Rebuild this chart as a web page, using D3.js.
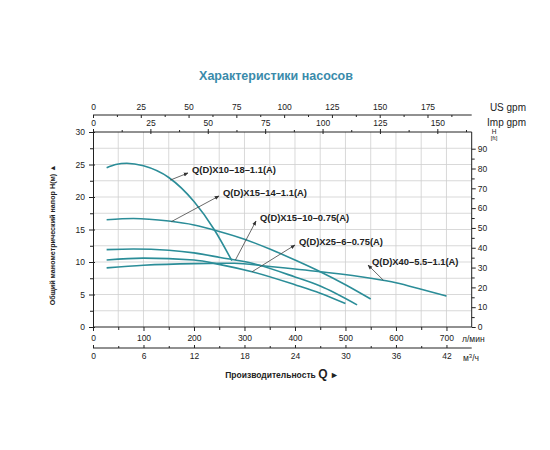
<!DOCTYPE html>
<html>
<head>
<meta charset="utf-8">
<script src="https://cdn.jsdelivr.net/npm/d3@7"></script>
<style>
  body { margin: 0; background: #fff; }
  text { font-family: "Liberation Sans", Arial, sans-serif; }
</style>
</head>
<body>
<svg id="chart" width="550" height="450"></svg>
<script>
// --- data, flow in l/min, head in m ---
const pumpNames = [
  "Q(D)X10–18–1.1(A)",
  "Q(D)X15–14–1.1(A)",
  "Q(D)X15–10–0.75(A)",
  "Q(D)X25–6–0.75(A)",
  "Q(D)X40–5.5–1.1(A)"
];
const flowX10 = [27, 45, 67, 100, 150, 200, 240, 275];
const headX10 = [24.5, 25.0, 25.2, 24.8, 23.0, 19.3, 15.0, 10.2];
const flowX15a = [27, 80, 150, 200, 250, 300, 350, 400, 450, 500, 550];
const headX15a = [16.5, 16.7, 16.3, 15.7, 14.7, 13.5, 12.0, 10.3, 8.5, 6.5, 4.3];
const flowX15b = [27, 80, 150, 200, 252, 315, 400, 450, 523];
const headX15b = [11.9, 12.0, 11.8, 11.4, 10.7, 9.8, 7.7, 6.3, 3.4];
const flowX25 = [27, 100, 200, 252, 315, 400, 450, 500];
const headX25 = [10.3, 10.6, 10.3, 9.6, 8.5, 6.5, 5.2, 3.6];
const flowX40 = [27, 100, 200, 280, 350, 450, 550, 600, 650, 700];
const headX40 = [9.1, 9.5, 9.75, 9.8, 9.3, 8.5, 7.5, 6.8, 5.8, 4.75];

// where each label's leader line touches its curve (flow l/min, head m)
const labelFlow = [153, 155, 282, 315, 575];
const labelHead = [22.6, 16.2, 10.3, 8.5, 7.2];

const headTicks = [0, 5, 10, 15, 20, 25, 30];
const feetTicks = [0, 10, 20, 30, 40, 50, 60, 70, 80, 90];
const lpmTicks = [0, 100, 200, 300, 400, 500, 600, 700];
const m3hTicks = [0, 6, 12, 18, 24, 30, 36, 42];
const usTicks = [0, 25, 50, 75, 100, 125, 150, 175];
const impTicks = [0, 25, 50, 75, 100, 125, 150];

const series = [
  { flow: flowX10, head: headX10 },
  { flow: flowX15a, head: headX15a },
  { flow: flowX15b, head: headX15b },
  { flow: flowX25, head: headX25 },
  { flow: flowX40, head: headX40 }
];

const svg = d3.select("#chart");
const pL = 93, pR = 471.7, pT = 132, pB = 327;
const maxFlow = 750;

const x = d3.scaleLinear().domain([0, maxFlow]).range([pL, pR]);
const y = d3.scaleLinear().domain([0, 30]).range([pB, pT]);
const yFt = d3.scaleLinear().domain([0, 30 / 0.3048]).range([pB, pT]);
const xM3 = d3.scaleLinear().domain([0, maxFlow * 0.06]).range([pL, pR]);
const xUs = d3.scaleLinear().domain([0, maxFlow / 3.78541]).range([pL, pR]);
const xImp = d3.scaleLinear().domain([0, maxFlow / 4.54609]).range([pL, pR]);

const curveColor = "#2b8d98";
const gridColor = "#cfcfcf";

// title
svg.append("text")
  .attr("x", 276).attr("y", 80)
  .attr("text-anchor", "middle")
  .style("font-size", "12.5px").style("font-weight", "bold")
  .attr("fill", "#3a8bab")
  .text("Характеристики насосов");

// grid
const grid = svg.append("g");
grid.selectAll(".vg")
  .data(d3.range(50, maxFlow, 50))
  .join("line")
  .attr("x1", d => x(d)).attr("x2", d => x(d))
  .attr("y1", pT).attr("y2", pB)
  .attr("stroke", gridColor).attr("stroke-width", 0.8);
grid.selectAll(".hg")
  .data(d3.range(2.5, 30, 2.5))
  .join("line")
  .attr("x1", pL).attr("x2", pR)
  .attr("y1", d => y(d)).attr("y2", d => y(d))
  .attr("stroke", gridColor).attr("stroke-width", 0.8);

function styleAxis(g) {
  g.select(".domain").attr("stroke", "#222").attr("stroke-width", 1);
  g.selectAll(".tick line").attr("stroke", "#222");
  g.selectAll("text").style("font-size", "8.5px").attr("fill", "#222");
}
function minor(g) {
  g.select(".domain").remove();
  g.selectAll("text").remove();
  g.selectAll(".tick line").attr("stroke", "#222");
}

// left axis (m)
svg.append("g").attr("transform", `translate(${pL},0)`)
  .call(d3.axisLeft(y).tickValues(d3.range(2.5, 30, 5)).tickSize(3))
  .call(minor);
svg.append("g").attr("transform", `translate(${pL},0)`)
  .call(d3.axisLeft(y).tickValues(headTicks).tickSizeOuter(0).tickSize(4).tickPadding(4))
  .call(styleAxis);
svg.append("g").attr("transform", `translate(${pL},0)`)
  .call(d3.axisRight(y).tickValues(headTicks).tickSize(2))
  .call(minor);

// right axis (ft)
svg.append("g").attr("transform", `translate(${pR},0)`)
  .call(d3.axisRight(yFt).tickValues(d3.range(5, 95, 10)).tickSize(3))
  .call(minor);
svg.append("g").attr("transform", `translate(${pR},0)`)
  .call(d3.axisRight(yFt).tickValues(feetTicks).tickSizeOuter(0).tickSize(4).tickPadding(2))
  .call(styleAxis)
  .call(g => g.select(".domain").attr("d", `M0,${pT}V${pB}`));
svg.append("text").attr("x", 494).attr("y", 133.5).attr("text-anchor", "middle")
  .style("font-size", "6.5px").attr("fill", "#222").text("H");
svg.append("text").attr("x", 494).attr("y", 139.5).attr("text-anchor", "middle")
  .style("font-size", "6px").attr("fill", "#222").text("[ft]");

// bottom axis (l/min)
svg.append("g").attr("transform", `translate(0,${pB})`)
  .call(d3.axisBottom(x).tickValues(d3.range(50, 750, 100)).tickSize(3))
  .call(minor);
svg.append("g").attr("transform", `translate(0,${pB})`)
  .call(d3.axisBottom(x).tickValues(lpmTicks).tickSizeOuter(0).tickSize(4).tickPadding(4))
  .call(styleAxis)
  .call(g => g.select(".domain").attr("d", `M${pL},0H${pR}`));
svg.append("text").attr("x", 462).attr("y", 342)
  .style("font-size", "8.5px").attr("fill", "#222").text("л/мин");

// m3/h axis
const yM3 = 348;
svg.append("g").attr("transform", `translate(0,${yM3})`)
  .call(d3.axisBottom(xM3).tickValues(d3.range(3, 45, 6)).tickSize(-2))
  .call(minor);
svg.append("g").attr("transform", `translate(0,${yM3})`)
  .call(d3.axisBottom(xM3).tickValues(m3hTicks).tickSizeOuter(0).tickSize(-3).tickPadding(5))
  .call(styleAxis)
  .call(g => g.select(".domain").attr("d", `M${pL},0H${pR}`));
svg.append("text").attr("x", 463).attr("y", 361)
  .style("font-size", "8.5px").attr("fill", "#222")
  .html('м<tspan dy="-3" style="font-size:6px">3</tspan><tspan dy="3">/ч</tspan>');

// top: US gpm
const yUs = 115;
svg.append("g").attr("transform", `translate(0,${yUs})`)
  .call(d3.axisTop(xUs).tickValues(d3.range(12.5, 190, 25)).tickSize(-2))
  .call(minor);
svg.append("g").attr("transform", `translate(0,${yUs})`)
  .call(d3.axisTop(xUs).tickValues(usTicks).tickSizeOuter(0).tickSize(-3).tickPadding(5))
  .call(styleAxis)
  .call(g => g.select(".domain").attr("d", `M${pL},0H${pR}`));
svg.append("text").attr("x", 526).attr("y", 110.5).attr("text-anchor", "end")
  .style("font-size", "10px").attr("fill", "#222").text("US gpm");

// top: Imp gpm (top frame of the plot)
svg.append("g").attr("transform", `translate(0,${pT})`)
  .call(d3.axisTop(xImp).tickValues(d3.range(12.5, 165, 25)).tickSize(2))
  .call(minor);
svg.append("g").attr("transform", `translate(0,${pT})`)
  .call(d3.axisTop(xImp).tickValues(impTicks).tickSizeOuter(0).tickSize(3).tickPadding(3))
  .call(styleAxis)
  .call(g => g.select(".domain").attr("d", `M${pL},0H${pR}`));
svg.append("g").attr("transform", `translate(0,${pT})`)
  .call(d3.axisBottom(xImp).tickValues(impTicks).tickSize(2))
  .call(minor);
svg.append("text").attr("x", 526).attr("y", 125.5).attr("text-anchor", "end")
  .style("font-size", "10px").attr("fill", "#222").text("Imp gpm");

// axis titles
svg.append("text")
  .attr("transform", `translate(54.5,235) rotate(-90)`)
  .attr("text-anchor", "middle")
  .style("font-size", "7.2px").style("font-weight", "bold").attr("fill", "#222")
  .text("Общий манометрический напор H(м) ▲");
svg.append("text")
  .attr("x", 282).attr("y", 378).attr("text-anchor", "middle")
  .style("font-size", "8.5px").style("font-weight", "bold").attr("fill", "#222")
  .html('Производительность <tspan style="font-size:12px">Q</tspan>  <tspan style="font-size:9px">&#9658;</tspan>');

// curves
const line = d3.line()
  .x(d => x(d[0])).y(d => y(d[1]))
  .curve(d3.curveMonotoneX);
svg.append("g").selectAll("path")
  .data(series)
  .join("path")
  .attr("d", s => line(s.flow.map((f, i) => [f, s.head[i]])))
  .attr("fill", "none")
  .attr("stroke", curveColor)
  .attr("stroke-width", 1.6);

// labels with leader arrows
svg.append("defs").append("marker")
  .attr("id", "arr").attr("viewBox", "0 0 10 10")
  .attr("refX", 9).attr("refY", 5)
  .attr("markerWidth", 6).attr("markerHeight", 6)
  .attr("orient", "auto")
  .append("path").attr("d", "M0,1L10,5L0,9z").attr("fill", "#333");

const labelPos = [[192, 170], [223, 193], [260, 218], [299, 242], [372, 262]];
const lbl = svg.append("g");
pumpNames.forEach((name, i) => {
  const [tx, ty] = labelPos[i];
  lbl.append("line")
    .attr("x1", x(labelFlow[i])).attr("y1", y(labelHead[i]))
    .attr("x2", tx - 4).attr("y2", ty + 3)
    .attr("stroke", "#444").attr("stroke-width", 0.8)
    .attr("marker-end", "url(#arr)");
  lbl.append("text")
    .attr("x", tx).attr("y", ty).attr("dy", "0.35em")
    .style("font-size", "9.4px").style("font-weight", "bold").attr("fill", "#222")
    .text(name);
});
</script>
</body>
</html>
